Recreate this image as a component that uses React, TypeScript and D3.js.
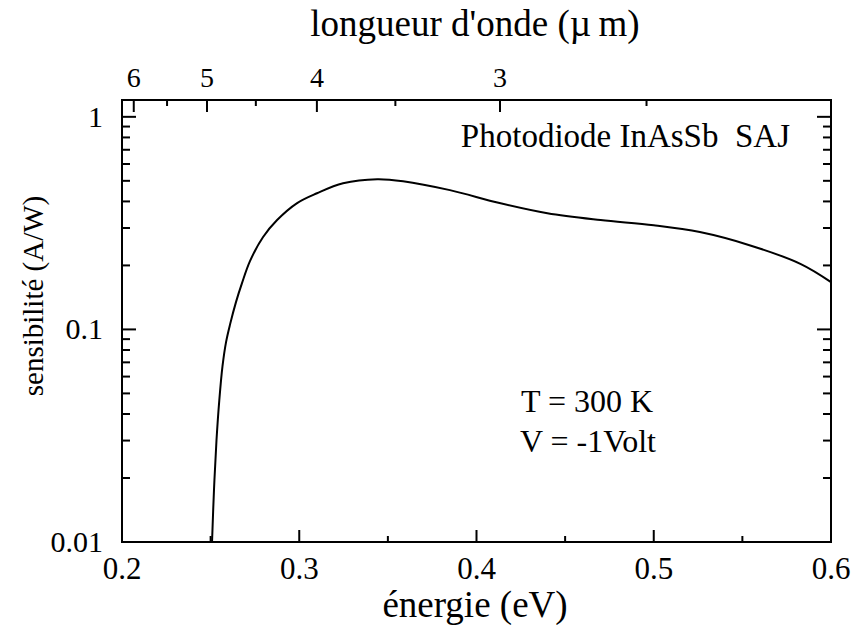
import React from "react";
import * as d3 from "d3";

const energy = [0.2508, 0.2519, 0.2533, 0.2549, 0.2567, 0.2587, 0.261, 0.2643, 0.2677, 0.2722, 0.2796, 0.2875, 0.2988, 0.31, 0.3247, 0.344, 0.3586, 0.385, 0.413, 0.44, 0.47, 0.5, 0.526, 0.554, 0.583, 0.6];
const sensitivity = [0.01, 0.0176, 0.03, 0.0465, 0.0672, 0.0872, 0.1059, 0.1344, 0.1651, 0.2095, 0.272, 0.327, 0.393, 0.437, 0.487, 0.509, 0.498, 0.452, 0.393, 0.352, 0.327, 0.309, 0.287, 0.249, 0.203, 0.167];

const xMajor = [0.2, 0.3, 0.4, 0.5, 0.6];
const xMinor = [0.25, 0.35, 0.45, 0.55];
const yMajor = [0.01, 0.1, 1];
const yMajorLabels = ["0.01", "0.1", "1"];
const yMinor = [0.02, 0.03, 0.04, 0.05, 0.06, 0.07, 0.08, 0.09, 0.2, 0.3, 0.4, 0.5, 0.6, 0.7, 0.8, 0.9];
const lambdaMajor = [6, 5, 4, 3];
const lambdaMinor = [5.5, 4.5, 3.5, 2.5];
const HC = 1.2398;

const L = 122, R = 831, T = 100, B = 542;
const font = "'Liberation Serif', 'Times New Roman', serif";
const ts = (size: number) => ({ fontFamily: font, fontSize: size + "px" });

export default function App() {
  const x = d3.scaleLinear().domain([0.2, 0.6]).range([L, R]);
  const y = d3.scaleLog().domain([0.01, 1.2]).range([B, T]);
  const pts = energy.map((e, i) => [e, sensitivity[i]] as [number, number]);
  const line = d3.line<[number, number]>().x(d => x(d[0])).y(d => y(d[1])).curve(d3.curveCatmullRom.alpha(0.5));
  const sw = 2;
  return (
    <svg width={854} height={625} style={{ position: "absolute", left: 0, top: 0, background: "#fff" }}>
      <rect x={0} y={0} width={854} height={625} fill="#fff" />
      {xMajor.map(v => <line key={"xM" + v} x1={x(v)} x2={x(v)} y1={B} y2={B - 12} stroke="#000" strokeWidth={sw} />)}
      {xMinor.map(v => <line key={"xm" + v} x1={x(v)} x2={x(v)} y1={B} y2={B - 6} stroke="#000" strokeWidth={sw} />)}
      {xMajor.map(v => <text key={"xl" + v} x={x(v)} y={579} style={ts(31)} textAnchor="middle">{String(v)}</text>)}
      {lambdaMajor.map(l => <line key={"tM" + l} x1={x(HC / l)} x2={x(HC / l)} y1={T} y2={T + 12} stroke="#000" strokeWidth={sw} />)}
      {lambdaMinor.map(l => <line key={"tm" + l} x1={x(HC / l)} x2={x(HC / l)} y1={T} y2={T + 6} stroke="#000" strokeWidth={sw} />)}
      {lambdaMajor.map(l => <text key={"tl" + l} x={x(HC / l)} y={87} style={ts(28)} textAnchor="middle">{String(l)}</text>)}
      {yMajor.map(v => (
        <g key={"yM" + v}>
          <line x1={L} x2={L + 14} y1={y(v)} y2={y(v)} stroke="#000" strokeWidth={sw} />
          <line x1={R} x2={R - 14} y1={y(v)} y2={y(v)} stroke="#000" strokeWidth={sw} />
        </g>
      ))}
      {yMinor.map(v => (
        <g key={"ym" + v}>
          <line x1={L} x2={L + 8} y1={y(v)} y2={y(v)} stroke="#000" strokeWidth={sw} />
          <line x1={R} x2={R - 8} y1={y(v)} y2={y(v)} stroke="#000" strokeWidth={sw} />
        </g>
      ))}
      {yMajor.map((v, i) => <text key={"yl" + v} x={103} y={y(v) + 10} style={ts(30)} textAnchor="end">{yMajorLabels[i]}</text>)}
      <rect x={L} y={T} width={R - L} height={B - T} fill="none" stroke="#000" strokeWidth={sw} />
      <path d={line(pts) || ""} fill="none" stroke="#000" strokeWidth={2} />
      <text x={475} y={36} style={ts(37)} textAnchor="middle">longueur d'onde (µ{"\u2009"}m)</text>
      <text x={475} y={617} style={ts(37)} textAnchor="middle">énergie (eV)</text>
      <text transform="translate(43,296) rotate(-90)" style={ts(29)} textAnchor="middle">sensibilité (A/W)</text>
      <text x={790} y={147} style={ts(33)} textAnchor="end">Photodiode InAsSb{"\u00a0\u00a0"}SAJ</text>
      <text x={587} y={412} style={ts(32)} textAnchor="middle">T = 300 K</text>
      <text x={588} y={452} style={ts(32)} textAnchor="middle">V = -1Volt</text>
    </svg>
  );
}
